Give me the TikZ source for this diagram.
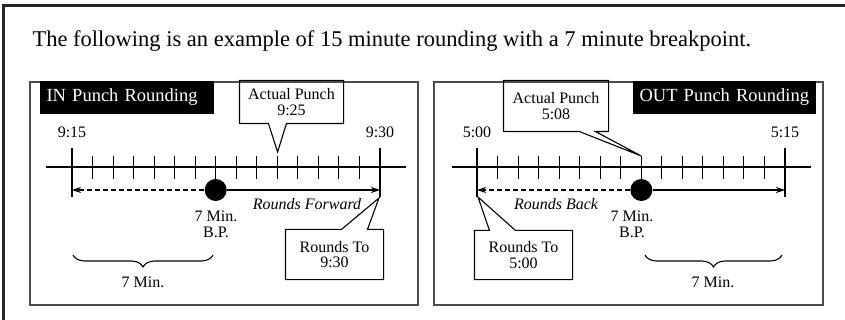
\documentclass[tikz,border=0pt]{standalone}
\usepackage{fontspec}
\setmainfont{Liberation Serif}
\usetikzlibrary{arrows.meta,decorations.pathreplacing,positioning}

\begin{document}
\begin{tikzpicture}[x=1pt,y=-1pt,line width=1.1pt,>={Stealth[length=9pt,width=6pt]},
	every node/.style={font=\fontsize{16}{16}\selectfont,inner sep=0pt}]

	\tikzstyle{panel}=[draw=black!70,line width=1.4pt]
	\tikzstyle{tag}=[fill=black,text=white,anchor=north west,minimum height=33,inner xsep=7,align=left,font=\fontsize{18.5}{20}\selectfont]
	\tikzstyle{callout}=[align=center,font=\fontsize{16}{15.5}\selectfont]
	\tikzstyle{bp}=[circle,fill=black,minimum size=22]
	\tikzstyle{brace}=[decorate,decoration={brace,mirror,amplitude=12}]
	\tikzstyle{note}=[align=center]

	\useasboundingbox (0,0) rectangle (845,320);
	\clip (0,0) rectangle (845,320);
	\draw[line width=2.5pt,black!85] (3.5,5.5) rectangle (900,400);

	\node[anchor=base west,font=\fontsize{22.5}{24}\selectfont] (title) at (32,47) {The following is an example of 15 minute rounding with a 7 minute breakpoint.};

	\draw[panel] (30,82) rectangle (418,305);
	\draw[panel] (434,82) rectangle (823,305);

	\node[tag,text width=160] (intag) at (39,80) {\mbox{IN Punch Rounding}};
	\node[tag,text width=169] (outtag) at (632,80) {\mbox{OUT Punch Rounding}};

	\draw (46,167) -- (406,167);
	\draw (72,148) -- (72,197);
	\draw (380,148) -- (380,197);
	\foreach \i in {1,...,14}
		\draw (72+\i*20.533,156) -- (72+\i*20.533,179);
	\node (in915) at (72,132) {9:15};
	\node (in930) at (380,132) {9:30};
	\coordinate (inL) at (72,190);
	\coordinate (inR) at (380,190);
	\node[bp] (indot) at (215.7,190) {};
	\draw[->,dash pattern=on 5pt off 3pt] (indot) -- (inL);
	\draw[->] (indot) -- (inR);
	\node[note] (inbp) at (216,224) {7 Min.\\B.P.};
	\node[font=\fontsize{16}{16}\selectfont\itshape] (infwd) at (307,204) {Rounds Forward};
	\draw[brace] (73,255) -- (213,255);
	\node (inmin) at (143,282) {7 Min.};

	\node[callout,minimum width=103,minimum height=42] (inpunch) at (291.5,102) {Actual Punch\\9:25};
	\coordinate (inpunchtip) at (277.6,152);
	\draw (inpunch.south west) -- ([xshift=29]inpunch.south west) -- (inpunchtip) -- ([xshift=47]inpunch.south west)
		-- (inpunch.south east) -- (inpunch.north east) -- (inpunch.north west) -- cycle;

	\node[callout,minimum width=97,minimum height=49] (inround) at (334.5,254.5) {Rounds To\\9:30};
	\coordinate (inroundtip) at (379,198);
	\draw (inround.north west) -- ([xshift=56]inround.north west) -- (inroundtip) -- ([xshift=82]inround.north west)
		-- (inround.north east) -- (inround.south east) -- (inround.south west) -- cycle;

	\draw (452,167) -- (811,167);
	\draw (477,148) -- (477,197);
	\draw (785,148) -- (785,197);
	\foreach \i in {1,...,14}
		\draw (477+\i*20.533,156) -- (477+\i*20.533,179);
	\node (out500) at (477,132) {5:00};
	\node (out515) at (785,132) {5:15};
	\coordinate (outL) at (477,190);
	\coordinate (outR) at (785,190);
	\node[bp] (outdot) at (641.3,190) {};
	\draw[->,dash pattern=on 5pt off 3pt] (outdot) -- (outL);
	\draw[->] (outdot) -- (outR);
	\node[note] (outbp) at (632,224) {7 Min.\\B.P.};
	\node[font=\fontsize{16}{16}\selectfont\itshape] (outback) at (556,204) {Rounds Back};
	\draw[brace] (645,255) -- (782,255);
	\node (outmin) at (713,282) {7 Min.};

	\node[callout,minimum width=104,minimum height=50] (outpunch) at (556,106) {Actual Punch\\5:08};
	\coordinate (outpunchtip) at (641.3,156);
	\draw (outpunch.south west) -- ([xshift=76]outpunch.south west) -- (outpunchtip) -- ([xshift=92]outpunch.south west)
		-- (outpunch.south east) -- (outpunch.north east) -- (outpunch.north west) -- cycle;

	\node[callout,minimum width=97,minimum height=48] (outround) at (523.5,255) {Rounds To\\5:00};
	\coordinate (outroundtip) at (478,197);
	\draw (outround.north west) -- ([xshift=15]outround.north west) -- (outroundtip) -- ([xshift=41]outround.north west)
		-- (outround.north east) -- (outround.south east) -- (outround.south west) -- cycle;

\end{tikzpicture}
\end{document}
